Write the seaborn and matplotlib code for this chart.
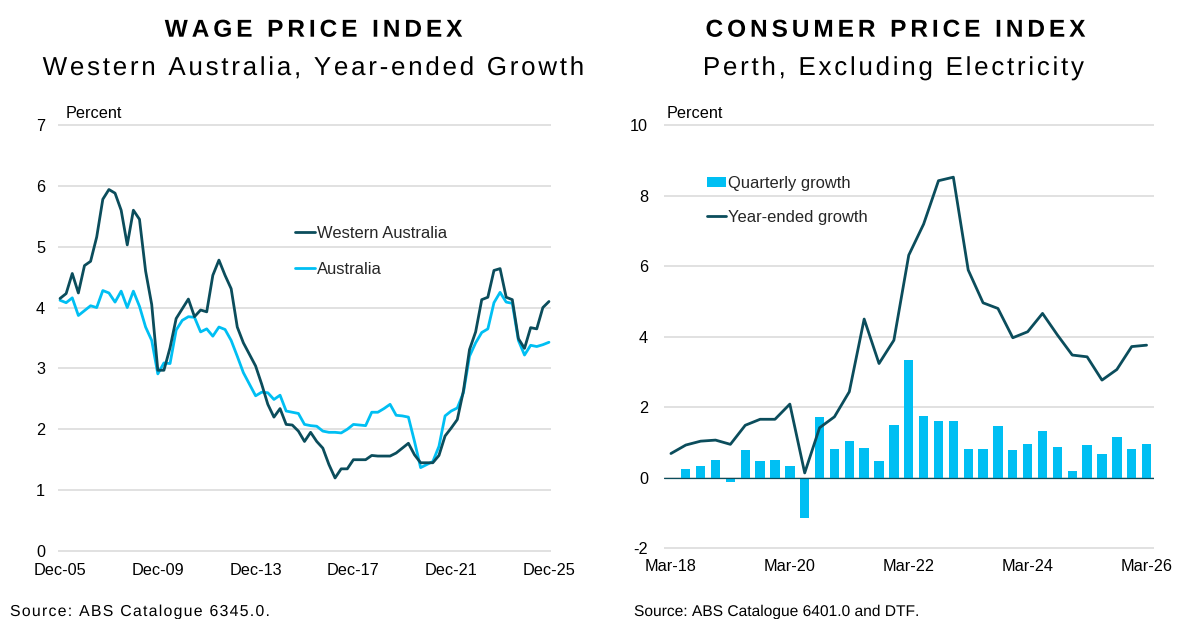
import numpy as np
import matplotlib
matplotlib.use("Agg")
import matplotlib.pyplot as plt
import seaborn as sns
from matplotlib.patheffects import AbstractPathEffect
from matplotlib.path import Path
from matplotlib.textpath import TextToPath
from matplotlib.font_manager import FontProperties, findfont, get_font
from matplotlib.lines import Line2D
from matplotlib.patches import Patch

# ---------------- data ----------------
wpi_quarters = [["Dec", "Mar", "Jun", "Sep"][i % 4] + "-%02d" % (5 + (i + 3) // 4) for i in range(81)]
wpi_tick_labels = ["Dec-05", "Dec-09", "Dec-13", "Dec-17", "Dec-21", "Dec-25"]
wa_growth = [4.15, 4.23, 4.56, 4.24, 4.69, 4.76, 5.16, 5.78, 5.94, 5.88,
             5.60, 5.03, 5.60, 5.45, 4.60, 4.05, 2.97, 2.97, 3.34, 3.82,
             3.98, 4.14, 3.85, 3.96, 3.93, 4.53, 4.78, 4.53, 4.31, 3.68,
             3.42, 3.23, 3.04, 2.74, 2.41, 2.20, 2.34, 2.08, 2.07, 1.97,
             1.80, 1.95, 1.80, 1.69, 1.42, 1.20, 1.35, 1.35, 1.50, 1.50,
             1.50, 1.57, 1.56, 1.56, 1.56, 1.61, 1.69, 1.77, 1.58, 1.45,
             1.45, 1.45, 1.57, 1.89, 2.02, 2.16, 2.63, 3.31, 3.60, 4.13,
             4.17, 4.61, 4.64, 4.17, 4.13, 3.49, 3.33, 3.67, 3.65, 4.00,
             4.10]
aus_growth = [4.12, 4.08, 4.16, 3.87, 3.95, 4.03, 4.00, 4.28, 4.24, 4.09,
              4.27, 4.00, 4.27, 4.02, 3.68, 3.46, 2.91, 3.09, 3.08, 3.63,
              3.79, 3.85, 3.84, 3.60, 3.65, 3.53, 3.68, 3.64, 3.46, 3.20,
              2.93, 2.74, 2.55, 2.61, 2.60, 2.49, 2.56, 2.30, 2.28, 2.26,
              2.08, 2.06, 2.05, 1.97, 1.95, 1.95, 1.94, 2.00, 2.08, 2.07,
              2.06, 2.28, 2.28, 2.34, 2.41, 2.23, 2.22, 2.20, 1.80, 1.37,
              1.42, 1.47, 1.72, 2.22, 2.30, 2.35, 2.60, 3.20, 3.42, 3.59,
              3.65, 4.08, 4.25, 4.09, 4.07, 3.46, 3.22, 3.38, 3.36, 3.39,
              3.43]

cpi_quarters = [["Mar", "Jun", "Sep", "Dec"][i % 4] + "-%02d" % (18 + i // 4) for i in range(33)]
cpi_tick_labels = ["Mar-18", "Mar-20", "Mar-22", "Mar-24", "Mar-26"]
cpi_quarterly = [np.nan, 0.24, 0.33, 0.50, -0.11, 0.79, 0.47, 0.50, 0.33, -1.13,
                 1.73, 0.83, 1.04, 0.86, 0.49, 1.49, 3.33, 1.74, 1.60, 1.60,
                 0.82, 0.82, 1.46, 0.78, 0.96, 1.34, 0.87, 0.19, 0.94, 0.68,
                 1.17, 0.82, 0.96]
cpi_yearly = [0.69, 0.93, 1.04, 1.07, 0.95, 1.49, 1.66, 1.66, 2.09, 0.14,
              1.42, 1.73, 2.44, 4.50, 3.24, 3.90, 6.31, 7.19, 8.42, 8.52,
              5.89, 4.96, 4.80, 3.97, 4.14, 4.66, 4.05, 3.48, 3.43, 2.77,
              3.07, 3.72, 3.76]

# ---------------- style ----------------
DARK = "#0B4D5C"
LIGHT = "#00BFF3"
GRID = "#D9D9D9"
W, H = 1178, 619

sns.set_theme(style="white")
plt.rcParams["font.family"] = ["Liberation Sans", "DejaVu Sans"]
plt.rcParams["axes.unicode_minus"] = False


class Tracking(AbstractPathEffect):
    """Draws text with extra letter spacing (text stays a real text object)."""

    def __init__(self, text, prop, em, align="center"):
        super().__init__()
        self.text, self.prop, self.em, self.align = text, prop, em, align

    def draw_path(self, renderer, gc, tpath, affine, rgbFace=None):
        t2p = TextToPath()
        font = get_font(findfont(self.prop))
        font.set_size(t2p.FONT_SCALE, t2p.DPI)
        sp = self.em * t2p.FONT_SCALE
        n = len(self.text)
        x = -(n - 1) * sp / 2 if self.align == "center" else 0.0
        verts, codes = [], []
        for ch in self.text:
            adv = font.load_char(ord(ch)).linearHoriAdvance / 65536
            if ch != " ":
                v, c = t2p.get_text_path(self.prop, ch)
                if len(v):
                    verts.append(np.asarray(v, float) + [x, 0.0])
                    codes.append(np.asarray(c))
            font.set_size(t2p.FONT_SCALE, t2p.DPI)
            x += adv + sp
        path = Path(np.concatenate(verts), np.concatenate(codes))
        renderer.draw_path(gc, path, affine, rgbFace)


def spaced_text(fig, x, y, s, size, weight="normal", em=0.1, ha="center"):
    fp = FontProperties(family="Liberation Sans", weight=weight, size=size)
    t = fig.text(x / W, 1 - y / H, s, fontproperties=fp, ha=ha, va="baseline", color="black")
    t.set_path_effects([Tracking(s, fp, em, align=ha)])
    return t


fig = plt.figure(figsize=(W / 100, H / 100), dpi=100)


def add_axes(x0, x1, y_top, y_bot):
    return fig.add_axes([x0 / W, 1 - y_bot / H, (x1 - x0) / W, (y_bot - y_top) / H])


# ---------------- left: WPI ----------------
ax1 = add_axes(58.2, 550.8, 123.0, 553.0)
xpos = np.arange(len(wpi_quarters))
sns.lineplot(x=xpos, y=aus_growth, ax=ax1, color=LIGHT, linewidth=2.0, zorder=3)
sns.lineplot(x=xpos, y=wa_growth, ax=ax1, color=DARK, linewidth=2.0, zorder=4)
ax1.set_xlim(-0.3, 80.3)
ax1.set_ylim(-0.033, 7.033)
ax1.set_yticks(range(0, 8))
ax1.set_xticks([wpi_quarters.index(t) for t in wpi_tick_labels])
ax1.set_xticklabels(wpi_tick_labels)
ax1.yaxis.grid(True, color=GRID, linewidth=1.1, zorder=0)
ax1.tick_params(axis="y", length=0, pad=9.5, labelsize=11.7, labelcolor="black")
ax1.tick_params(axis="x", length=0, pad=7.5, labelsize=11.7, labelcolor="black")
for s in ax1.spines.values():
    s.set_visible(False)
ax1.set_xlabel("")
ax1.set_ylabel("")
ax1.set_axisbelow(True)
leg1 = fig.legend(
    handles=[Line2D([], [], color=DARK, lw=2.0), Line2D([], [], color=LIGHT, lw=2.0)],
    labels=["Western Australia", "Australia"],
    loc="upper left", bbox_to_anchor=(295 / W, 1 - 226 / H), frameon=False,
    borderaxespad=0, borderpad=0, handlelength=1.2, handletextpad=0.15,
    labelspacing=1.25, fontsize=11.9)
fig.text(66 / W, 1 - 113 / H, "Percent", fontsize=11.7, va="center", ha="left", color="black")

# ---------------- right: CPI ----------------
ax2 = add_axes(663.5, 1154.0, 123.9, 549.5)
cpos = np.arange(len(cpi_quarters))
sns.barplot(x=cpos, y=cpi_quarterly, ax=ax2, native_scale=True, width=0.63,
            color=LIGHT, saturation=1, errorbar=None, linewidth=0, zorder=2)
ax2.axhline(0, color=DARK, linewidth=0.9, zorder=3)
sns.lineplot(x=cpos, y=cpi_yearly, ax=ax2, color=DARK, linewidth=2.0, zorder=4)
ax2.set_xlim(-0.5, 32.5)
ax2.set_ylim(-2.03, 10.03)
ax2.set_yticks(range(-2, 11, 2))
ax2.set_xticks([cpi_quarters.index(t) for t in cpi_tick_labels])
ax2.set_xticklabels(cpi_tick_labels)
ax2.yaxis.grid(True, color=GRID, linewidth=1.1, zorder=0)
ax2.tick_params(axis="y", length=0, pad=11, labelsize=11.7, labelcolor="black")
ax2.tick_params(axis="x", length=0, pad=7, labelsize=11.7, labelcolor="black")
for s in ax2.spines.values():
    s.set_visible(False)
ax2.set_xlabel("")
ax2.set_ylabel("")
ax2.set_axisbelow(True)
leg2 = fig.legend(
    handles=[Patch(facecolor=LIGHT, edgecolor="none"), Line2D([], [], color=DARK, lw=2.0)],
    labels=["Quarterly growth", "Year-ended growth"],
    loc="upper left", bbox_to_anchor=(707 / W, 1 - 176 / H), frameon=False,
    borderaxespad=0, borderpad=0, handlelength=1.15, handleheight=0.6,
    handletextpad=0.15, labelspacing=1.12, fontsize=11.9)
fig.text(667 / W, 1 - 113 / H, "Percent", fontsize=11.7, va="center", ha="left", color="black")

# ---------------- titles and sources ----------------
spaced_text(fig, 312.5, 36.7, "WAGE PRICE INDEX", 17.6, weight="bold", em=0.16)
spaced_text(fig, 311.5, 75.0, "Western Australia, Year-ended Growth", 18.7, em=0.105)
spaced_text(fig, 895.0, 36.7, "CONSUMER PRICE INDEX", 17.6, weight="bold", em=0.16)
spaced_text(fig, 893.5, 75.0, "Perth, Excluding Electricity", 18.7, em=0.105)
spaced_text(fig, 10, 616, "Source: ABS Catalogue 6345.0.", 11.4, em=0.08, ha="left")
spaced_text(fig, 634, 616, "Source: ABS Catalogue 6401.0 and DTF.", 11.2, em=0.0, ha="left")

fig.savefig("out.png", dpi=100)
